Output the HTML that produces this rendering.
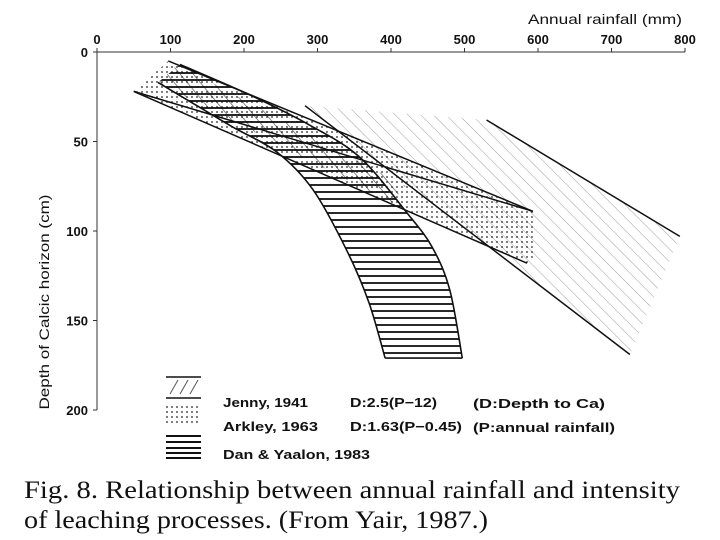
<!DOCTYPE html>
<html><head><meta charset="utf-8"><style>
body{margin:0;background:#fff}
svg{display:block}
text{font-family:"Liberation Sans",sans-serif;fill:#111}
</style></head><body>
<svg width="720" height="540" viewBox="0 0 720 540" xmlns="http://www.w3.org/2000/svg">
<defs>
<pattern id="dots" width="5" height="5" patternUnits="userSpaceOnUse"><circle cx="2" cy="2" r="0.9" fill="#222"/></pattern>
<pattern id="diag" width="9" height="9" patternUnits="userSpaceOnUse" patternTransform="rotate(-45)"><line x1="0" y1="0" x2="0" y2="9" stroke="#888" stroke-width="0.8"/></pattern>
<pattern id="diagDark" width="10" height="10" patternUnits="userSpaceOnUse" patternTransform="rotate(-40)"><line x1="0" y1="0" x2="0" y2="10" stroke="#111" stroke-width="1.4"/></pattern>
<pattern id="horiz" width="8" height="7" patternUnits="userSpaceOnUse"><line x1="0" y1="3" x2="8" y2="3" stroke="#111" stroke-width="1.8"/></pattern>
</defs>
<g id="plot"></g>
<g id="legend">
<line x1="166" y1="377" x2="201" y2="377" stroke="#111" stroke-width="1.5"/>
<line x1="170" y1="394" x2="178" y2="380" stroke="#555"/><line x1="180" y1="394" x2="188" y2="380" stroke="#555"/><line x1="190" y1="394" x2="198" y2="380" stroke="#555"/>
<line x1="166" y1="398" x2="201" y2="398" stroke="#111" stroke-width="1.5"/>
<rect x="166" y="406" width="35" height="18" fill="url(#dots)"/>
<line x1="166" y1="436" x2="201" y2="436" stroke="#111" stroke-width="2"/>
<line x1="166" y1="442" x2="201" y2="442" stroke="#111" stroke-width="2"/>
<line x1="166" y1="448" x2="201" y2="448" stroke="#111" stroke-width="2"/>
<line x1="166" y1="453" x2="201" y2="453" stroke="#111" stroke-width="2"/>
<line x1="166" y1="458" x2="201" y2="458" stroke="#111" stroke-width="2"/>
<text x="223" y="407" font-size="13" font-weight="bold" textLength="85" lengthAdjust="spacingAndGlyphs">Jenny, 1941</text>
<text x="350" y="407" font-size="13" font-weight="bold" textLength="87" lengthAdjust="spacingAndGlyphs">D:2.5(P−12)</text>
<text x="473" y="408" font-size="13" font-weight="bold" textLength="132" lengthAdjust="spacingAndGlyphs">(D:Depth to Ca)</text>
<text x="223" y="431" font-size="13" font-weight="bold" textLength="95" lengthAdjust="spacingAndGlyphs">Arkley, 1963</text>
<text x="350" y="431" font-size="13" font-weight="bold" textLength="112" lengthAdjust="spacingAndGlyphs">D:1.63(P−0.45)</text>
<text x="473" y="432" font-size="13" font-weight="bold" textLength="142" lengthAdjust="spacingAndGlyphs">(P:annual rainfall)</text>
<text x="223" y="459" font-size="13" font-weight="bold" textLength="147" lengthAdjust="spacingAndGlyphs">Dan &amp; Yaalon, 1983</text>
</g>
<text x="24" y="498" font-size="25" textLength="656" lengthAdjust="spacingAndGlyphs" style="font-family:'Liberation Serif',serif">Fig. 8. Relationship between annual rainfall and intensity</text>
<text x="24" y="528" font-size="25" textLength="464" lengthAdjust="spacingAndGlyphs" style="font-family:'Liberation Serif',serif">of leaching processes. (From Yair, 1987.)</text>
</svg>
<script>
const xTicks=[0,100,200,300,400,500,600,700,800];
const yTicks=[0,50,100,150,200];
// bands in data units [rainfall mm, depth cm]
const jennyWide=[[283,30],[530,38],[793,103],[725,169]];
const jennyNarrow=[[83,17],[110,7],[420,75],[400,84]];
const arkley=[[50,22],[97,5],[593,89],[593,115],[585,118]];
const danLeft=[[83,17],[140,31],[185,42],[245,56],[294,77],[340,111],[370,140],[392,171]];
const danRight=[[497,171],[480,133],[456,109],[422,90],[358,59],[290,41],[208,24],[113,7]];
const jennyLines=[[[283,30],[725,169]],[[530,38],[793,103]]];
const arkleyLines=[[[50,22],[593,89]],[[97,5],[593,89]],[[50,22],[585,118]]];
const X=v=>97+v*0.735, Y=v=>52+v*1.79;
const ns="http://www.w3.org/2000/svg", g=document.getElementById('plot');
function mk(t,a){const e=document.createElementNS(ns,t);for(const k in a)e.setAttribute(k,a[k]);g.appendChild(e);return e;}
const pts=a=>a.map(p=>X(p[0])+','+Y(p[1])).join(' ');
function smooth(a){
  const p=a.map(q=>[X(q[0]),Y(q[1])]);let d='M'+p[0][0]+','+p[0][1];
  for(let i=0;i<p.length-1;i++){
    const p0=p[i-1]||p[i],p1=p[i],p2=p[i+1],p3=p[i+2]||p2;
    d+=' C'+(p1[0]+(p2[0]-p0[0])/6)+','+(p1[1]+(p2[1]-p0[1])/6)+' '+(p2[0]-(p3[0]-p1[0])/6)+','+(p2[1]-(p3[1]-p1[1])/6)+' '+p2[0]+','+p2[1];
  }return d;}
let e;
e=mk('polygon',{points:pts(jennyWide),fill:'url(#diag)'});


e=mk('polygon',{points:pts(arkley),fill:'url(#dots)'});


const danPath=smooth(danLeft)+' L'+X(danRight[0][0])+','+Y(danRight[0][1])+smooth(danRight).replace(/^M[^C]*/,'')+' Z';
e=mk('path',{d:danPath,fill:'url(#horiz)'});


e=mk('polygon',{points:pts(jennyNarrow),fill:'url(#diagDark)',opacity:'0.7'});


e=mk('path',{d:smooth(danLeft),fill:'none',stroke:'#111','stroke-width':1.6});


e=mk('path',{d:smooth(danRight),fill:'none',stroke:'#111','stroke-width':1.6});


e=mk('line',{x1:X(danLeft[danLeft.length-1][0]),y1:Y(171),x2:X(danRight[0][0]),y2:Y(171),stroke:'#111','stroke-width':1.6});


jennyLines.concat(arkleyLines).forEach((l,i)=>{
  const ln=mk('line',{x1:X(l[0][0]),y1:Y(l[0][1]),x2:X(l[1][0]),y2:Y(l[1][1]),stroke:'#111','stroke-width':1.5});
  
  
});
e=mk('line',{x1:X(0),y1:Y(0),x2:X(800),y2:Y(0),stroke:'#333','stroke-width':1});


e=mk('line',{x1:X(0),y1:Y(0),x2:X(0),y2:Y(200),stroke:'#333','stroke-width':1});


xTicks.forEach(v=>{
  const t=mk('line',{x1:X(v),y1:Y(0),x2:X(v),y2:Y(0)-4,stroke:'#333'});
  
  
  const l=mk('text',{x:X(v),y:44,'font-size':13,'font-weight':'bold','text-anchor':'middle'});l.textContent=v;
  
  
});
yTicks.forEach(v=>{
  const t=mk('line',{x1:X(0)-4,y1:Y(v),x2:X(0),y2:Y(v),stroke:'#333'});
  
  
  const l=mk('text',{x:88,y:Y(v)+5,'font-size':13,'font-weight':'bold','text-anchor':'end'});l.textContent=v;
  
  
});
e=mk('text',{x:528,y:24,'font-size':14,textLength:154,lengthAdjust:'spacingAndGlyphs'});e.textContent='Annual rainfall (mm)';


e=mk('text',{x:0,y:0,'font-size':14,'text-anchor':'middle',textLength:215,lengthAdjust:'spacingAndGlyphs',transform:'translate(49,302) rotate(-90)'});e.textContent='Depth of Calcic horizon (cm)';


</script>
</body></html>
